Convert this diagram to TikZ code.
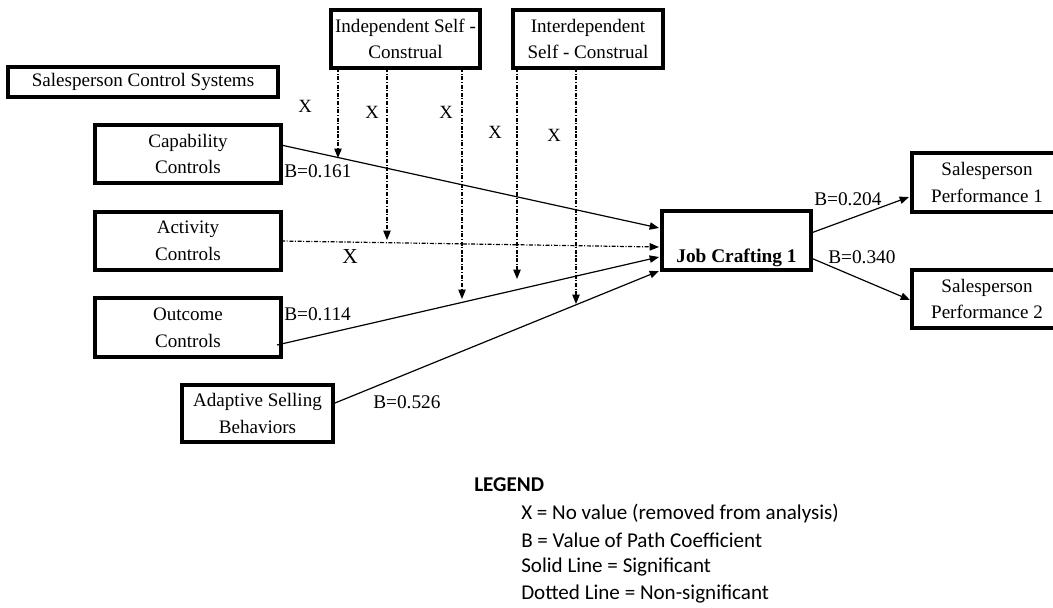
\documentclass[tikz,border=0pt]{standalone}
\usepackage{fontspec}
\setmainfont{Liberation Serif}
\newfontfamily\legendfont{Carlito}
\usetikzlibrary{arrows.meta}
\begin{document}
\begin{tikzpicture}[x=0.75pt,y=-0.75pt,
  box/.style={draw, line width=2.3pt, inner sep=0pt, align=center, font=\fontsize{14.3}{20}\selectfont},
  arr/.style={line width=0.9pt, -{Triangle[length=7pt,width=5.5pt]}},
  nsarr/.style={arr, dash pattern=on 3pt off 1.2pt on 0.8pt off 1.2pt},
  lbl/.style={font=\fontsize{14.5}{16}\selectfont, inner sep=0pt},
  xmark/.style={font=\fontsize{14}{15}\selectfont, inner sep=0pt},
  leg/.style={font=\legendfont\fontsize{15.8}{18}\selectfont, anchor=west, inner sep=0pt}]
\useasboundingbox (0,0) rectangle (1053,607);
\clip (0,0) rectangle (1053,607);
% boxes
\node[box, minimum width={270*0.75pt}, minimum height={30*0.75pt}] (scs) at (143,82) {Salesperson Control Systems};
\node[box, minimum width={186*0.75pt}, minimum height={58*0.75pt}] (cap) at (188,154) {Capability\\Controls};
\node[box, minimum width={186*0.75pt}, minimum height={58*0.75pt}] (act) at (188,241) {Activity\\Controls};
\node[box, minimum width={186*0.75pt}, minimum height={59*0.75pt}] (out) at (188,327.5) {Outcome\\Controls};
\node[box, minimum width={151*0.75pt}, minimum height={57*0.75pt}] (asb) at (257.5,413.5) {Adaptive Selling\\Behaviors};
\node[box, minimum width={149*0.75pt}, minimum height={58*0.75pt}] (ind) at (405.5,39) {Independent Self -\\Construal};
\node[box, minimum width={150*0.75pt}, minimum height={58*0.75pt}] (inter) at (588,39) {Interdependent\\Self - Construal};
\node[box, minimum width={149*0.75pt}, minimum height={59*0.75pt}] (jc) at (736.5,240.5) {};
\node[font=\bfseries\fontsize{14.5}{16}\selectfont, inner sep=0pt] (jct) at (736.5,258) {Job Crafting 1};
\node[box, minimum width={150*0.75pt}, minimum height={59*0.75pt}] (sp1) at (987,182.5) {Salesperson\\Performance 1};
\node[box, minimum width={150*0.75pt}, minimum height={58*0.75pt}] (sp2) at (987,299) {Salesperson\\Performance 2};
% anchor coordinates
\coordinate (capo) at (281,145);
\coordinate (acto) at (281,241);
\coordinate (outo) at (277,345);
\coordinate (asbo) at (335,403);
\coordinate (jc1) at (659,228);
\coordinate (jc2) at (659,247);
\coordinate (jc3) at (659,257);
\coordinate (jc4) at (659,271);
\coordinate (jco1) at (811,233);
\coordinate (jco2) at (811,258);
\coordinate (sp1i) at (909,197);
\coordinate (sp2i) at (910,300);
% main paths
\draw[arr] (capo) -- (jc1);
\draw[nsarr] (acto) -- (jc2);
\draw[arr] (outo) -- (jc3);
\draw[arr] (asbo) -- (jc4);
\draw[arr] (jco1) -- (sp1i);
\draw[arr] (jco2) -- (sp2i);
% moderator paths
\coordinate (m1s) at (338,68); \coordinate (m1e) at (338,158);
\coordinate (m2s) at (387,68); \coordinate (m2e) at (387,240);
\coordinate (m3s) at (462,68); \coordinate (m3e) at (462,299);
\coordinate (m4s) at (517,68); \coordinate (m4e) at (517,279);
\coordinate (m5s) at (576,68); \coordinate (m5e) at (576,304);
\draw[nsarr] (m1s) -- (m1e);
\draw[nsarr] (m2s) -- (m2e);
\draw[nsarr] (m3s) -- (m3e);
\draw[nsarr] (m4s) -- (m4e);
\draw[nsarr] (m5s) -- (m5e);
% X marks
\node[xmark] (x1) at (305,106) {X};
\node[xmark] (x2) at (372,112) {X};
\node[xmark] (x3) at (446,112) {X};
\node[xmark] (x4) at (495,132) {X};
\node[xmark] (x5) at (554,135) {X};
\node[font=\fontsize{16}{18}\selectfont, inner sep=0pt] (xa) at (350,257) {X};
% labels
\node[lbl, anchor=west] (b1) at (284,171) {B=0.161};
\node[lbl, anchor=west] (b2) at (284,314) {B=0.114};
\node[lbl, anchor=west] (b3) at (373,402) {B=0.526};
\node[lbl, anchor=west] (b4) at (814,199) {B=0.204};
\node[lbl, anchor=west] (b5) at (828,257) {B=0.340};
% legend
\node[leg, font=\legendfont\bfseries\fontsize{15.8}{18}\selectfont] (lg) at (474,485) {LEGEND};
\node[leg] (l1) at (521,513) {X = No value (removed from analysis)};
\node[leg] (l2) at (521,540) {B = Value of Path Coefficient};
\node[leg] (l3) at (521,567) {Solid Line = Significant};
\node[leg] (l4) at (521,594) {Dotted Line = Non-significant};
\end{tikzpicture}
\end{document}
